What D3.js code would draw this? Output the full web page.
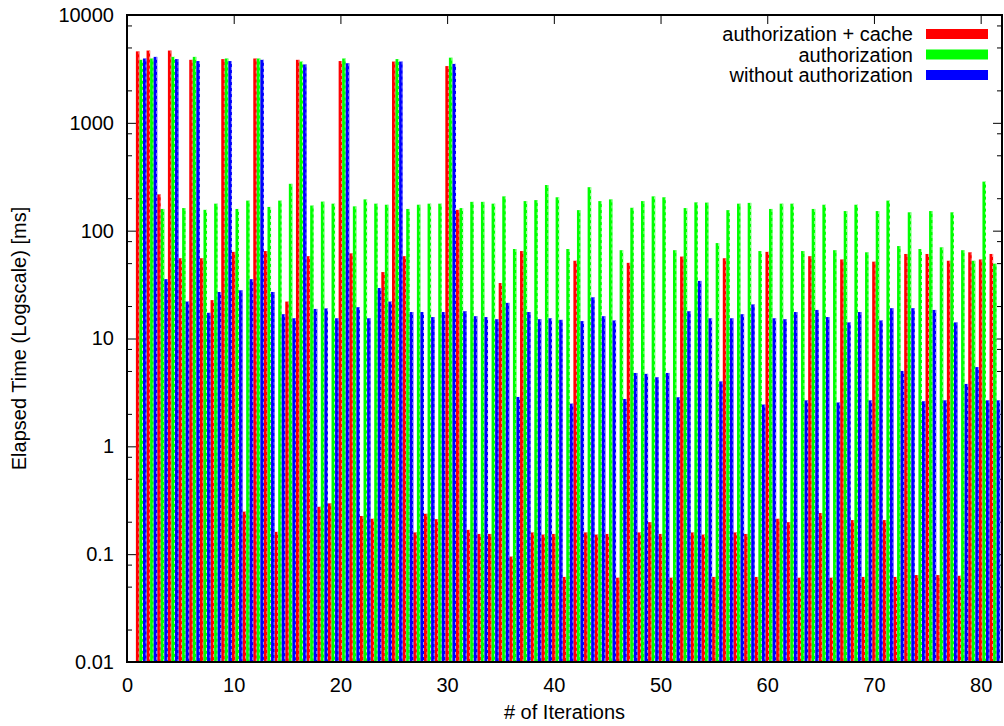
<!DOCTYPE html>
<html>
<head>
<meta charset="utf-8">
<script src="https://cdn.jsdelivr.net/npm/d3@7"></script>
<style>
  body { margin: 0; background: #fff; }
  text { font-family: "Liberation Sans", Arial, Helvetica, sans-serif; font-size: 20px; fill: #000; }
</style>
</head>
<body>
<script>
// elapsed time per iteration (ms)
var iterations = d3.range(1, 82);

var authCache = [
  4600, 4680, 217, 4680, 55.5, 3840, 55.5, 22.7, 3900, 63.6,
  0.248, 3950, 64.7, 0.161, 22, 3840, 58, 0.275, 0.296, 3740,
  61.6, 0.226, 0.213, 41.3, 3700, 58, 0.159, 0.237, 0.211, 3360,
  156, 0.168, 0.154, 0.154, 32.7, 0.095, 64.7, 0.159, 0.152, 0.154,
  0.0615, 52.6, 0.159, 0.152, 0.154, 0.0605, 50.3, 0.159, 0.198, 0.154,
  0.0605, 57.5, 0.159, 0.152, 0.0615, 55.5, 0.159, 0.154, 0.0615, 63.6,
  0.213, 0.198, 0.0605, 58, 0.241, 0.0605, 54.1, 0.207, 0.0615, 51.6,
  0.207, 0.0615, 60.8, 0.064, 60.8, 0.064, 52.6, 0.063, 63, 54.1,
  60.8
];

var auth = [
  3840, 3950, 159, 4090, 162, 4090, 156, 178, 3950, 159,
  190, 3950, 166, 190, 272, 3700, 171, 186, 178, 3950,
  168, 195, 178, 174, 3900, 159, 174, 178, 178, 4020,
  162, 185, 185, 178, 208, 67.6, 188, 192, 265, 204,
  67.6, 155, 253, 188, 195, 65.9, 163, 188, 208, 204,
  65.9, 162, 183, 182, 76.7, 155, 178, 181, 64.7, 159,
  178, 178, 64.7, 159, 174, 65.9, 152, 174, 63, 152,
  190, 72, 148, 67.6, 152, 70.1, 148, 65.9, 52.6, 285,
  49.4
];

var noAuth = [
  3950, 4090, 35.5, 3900, 22, 3740, 17.3, 27, 3740, 28,
  35.5, 3840, 27, 16.8, 15.4, 3480, 18.8, 19, 15.4, 3570,
  19.5, 15.4, 29.4, 22, 3700, 17.6, 17.6, 15.8, 17.6, 3520,
  17.9, 16.1, 15.8, 15.1, 21.4, 2.87, 17.6, 15.1, 15.4, 14.9,
  2.49, 14.5, 24.1, 16.1, 14.7, 2.75, 4.79, 4.7, 4.37, 4.79,
  2.85, 17.9, 34.2, 15.4, 4.0, 15.4, 16.8, 20.7, 2.44, 15.4,
  15.1, 17.6, 2.67, 18.4, 15.8, 2.55, 14.1, 17.6, 2.67, 14.7,
  19.1, 5.0, 19.1, 2.62, 18.4, 2.67, 14.1, 3.79, 5.43, 2.67,
  2.67
];

var seriesNames = ["authorization + cache", "authorization", "without authorization"];
var seriesColors = ["#ff0000", "#00ff00", "#0000ff"];
var edgeColors = ["#ff9a9a", "#b8ffb8", "#9a9aff"];

var yMajor = [0.01, 0.1, 1, 10, 100, 1000, 10000];
var yMinorSteps = [2, 5, 8];
var xMajor = [0, 10, 20, 30, 40, 50, 60, 70, 80];

var W = 1004, H = 726;
var plotL = 127, plotR = 1002, plotT = 15, plotB = 662;

var svg = d3.select("body").append("svg")
    .attr("width", W)
    .attr("height", H);

var x = d3.scaleLinear().domain([0, 82]).range([plotL, plotR]);
var y = d3.scaleLog().domain([0.01, 10000]).range([plotB, plotT]);

var yMinor = [];
yMajor.slice(0, -1).forEach(function(d) {
  yMinorSteps.forEach(function(m) { yMinor.push(d * m); });
});

function yLabel(d) {
  return d >= 1 ? d3.format("d")(d) : String(d);
}

// ticks (inward, mirrored like gnuplot)
var axes = svg.append("g").attr("class", "axes");

axes.append("g")
    .attr("transform", "translate(" + plotL + ",0)")
    .call(d3.axisLeft(y).tickValues(yMajor).tickFormat(yLabel).tickSize(-9).tickPadding(13))
    .call(function(g) { g.select(".domain").remove(); });

axes.append("g")
    .attr("transform", "translate(" + plotL + ",0)")
    .call(d3.axisLeft(y).tickValues(yMinor).tickFormat("").tickSize(-5))
    .call(function(g) { g.select(".domain").remove(); });

axes.append("g")
    .attr("transform", "translate(" + plotR + ",0)")
    .call(d3.axisRight(y).tickValues(yMajor).tickFormat("").tickSize(-9))
    .call(function(g) { g.select(".domain").remove(); });

axes.append("g")
    .attr("transform", "translate(" + plotR + ",0)")
    .call(d3.axisRight(y).tickValues(yMinor).tickFormat("").tickSize(-5))
    .call(function(g) { g.select(".domain").remove(); });

axes.append("g")
    .attr("transform", "translate(0," + plotB + ")")
    .call(d3.axisBottom(x).tickValues(xMajor).tickFormat(d3.format("d")).tickSize(-9).tickPadding(16))
    .call(function(g) { g.select(".domain").remove(); });

axes.append("g")
    .attr("transform", "translate(0," + plotT + ")")
    .call(d3.axisTop(x).tickValues(xMajor).tickFormat("").tickSize(-9))
    .call(function(g) { g.select(".domain").remove(); });

axes.selectAll(".tick line").attr("stroke", "#000").attr("stroke-width", 1);
axes.selectAll(".tick text")
    .style("font-size", "20px")
    .style("font-family", "'Liberation Sans', Arial, Helvetica, sans-serif")
    .attr("fill", "#000");

// bars, three per iteration side by side
var series = [authCache, auth, noAuth];
var barW = x(1 / 3) - x(0);

series.forEach(function(values, k) {
  var g = svg.append("g").attr("class", "series-" + k);
  var rows = iterations.map(function(it, i) { return {it: it, v: values[i]}; });

  g.selectAll("rect")
      .data(rows)
    .enter().append("rect")
      .attr("x", function(d) { return x(d.it + k / 3 - 1 / 6); })
      .attr("y", function(d) { return y(d.v); })
      .attr("width", barW)
      .attr("height", function(d) { return plotB - y(d.v); })
      .attr("fill", seriesColors[k]);

  g.selectAll("line")
      .data(rows)
    .enter().append("line")
      .attr("x1", function(d) { return x(d.it + k / 3 + 1 / 6) - 0.5; })
      .attr("x2", function(d) { return x(d.it + k / 3 + 1 / 6) - 0.5; })
      .attr("y1", function(d) { return y(d.v); })
      .attr("y2", plotB)
      .attr("stroke", edgeColors[k])
      .attr("stroke-width", 1)
      .attr("stroke-dasharray", "3,3");
});

// frame
svg.append("rect")
    .attr("x", plotL)
    .attr("y", plotT)
    .attr("width", plotR - plotL)
    .attr("height", plotB - plotT)
    .attr("fill", "none")
    .attr("stroke", "#000")
    .attr("stroke-width", 2);

// legend
var legend = svg.append("g").attr("class", "legend");
seriesNames.forEach(function(name, k) {
  var cy = 34 + k * 20.5;
  legend.append("text")
      .attr("x", 913)
      .attr("y", cy + 7)
      .attr("text-anchor", "end")
      .text(name);
  legend.append("rect")
      .attr("x", 926)
      .attr("y", cy - 5)
      .attr("width", 62)
      .attr("height", 10)
      .attr("fill", seriesColors[k]);
});

// axis titles
svg.append("text")
    .attr("x", (plotL + plotR) / 2)
    .attr("y", 719)
    .attr("text-anchor", "middle")
    .text("# of Iterations");

svg.append("text")
    .attr("transform", "translate(26," + ((plotT + plotB) / 2) + ") rotate(-90)")
    .attr("text-anchor", "middle")
    .text("Elapsed Time (Logscale) [ms]");
</script>
</body>
</html>
